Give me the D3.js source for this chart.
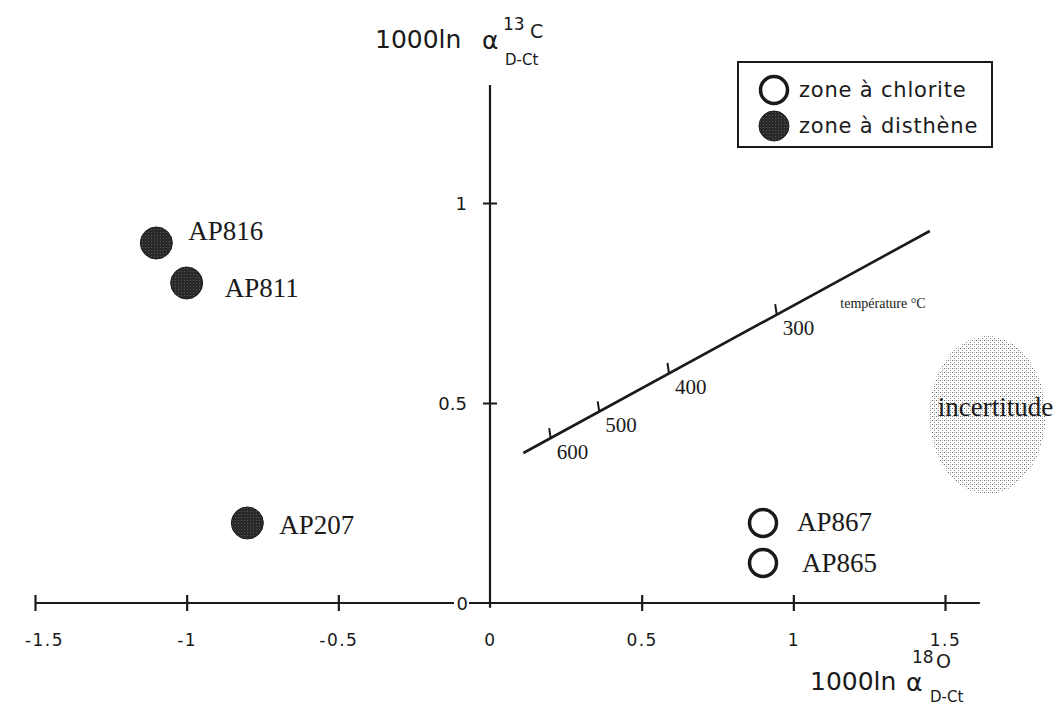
<!DOCTYPE html>
<html>
<head>
<meta charset="utf-8">
<script src="https://cdn.jsdelivr.net/npm/d3@7"></script>
<style>
  html, body { margin: 0; padding: 0; background: #fff; }
  svg { display: block; }
</style>
</head>
<body>
<div id="chart"></div>
<script>
// ---------- data ----------
const sampleNames = ["AP816", "AP811", "AP207", "AP867", "AP865"];
const d18O = [-1.1, -1.0, -0.8, 0.9, 0.9];
const d13C = [0.9, 0.8, 0.2, 0.2, 0.1];
const sampleZone = ["disthène", "disthène", "disthène", "chlorite", "chlorite"];

const legendLabels = ["zone à chlorite", "zone à disthène"];
const legendZones = ["chlorite", "disthène"];

const xTickValues = [-1.5, -1, -0.5, 0, 0.5, 1, 1.5];
const xTickLabels = ["-1.5", "-1", "-0.5", "0", "0.5", "1", "1.5"];
const yTickValues = [0, 0.5, 1];
const yTickLabels = ["0", "0.5", "1"];

// temperature calibration line
const tempLineX = [0.11, 1.45];
const tempLineY = [0.375, 0.93];
const tempLabels = ["600", "500", "400", "300"];
const tempX = [0.2, 0.36, 0.59, 0.945];
const tempY = [0.412, 0.479, 0.575, 0.722];

// uncertainty blob (centre in data units)
const uncertCenter = [1.64, 0.47];

// ---------- layout ----------
const W = 1060, H = 709;
const x = d3.scaleLinear().domain([-1.5, 1.5]).range([35, 945]);
const y = d3.scaleLinear().domain([0, 1]).range([603, 203]);

const labelDx = [32, 38, 32, 34, 39];
const labelDy = [-3, 14, 11, 8, 9];

const sans = "'DejaVu Sans', sans-serif";
const serif = "'Liberation Serif', 'Times New Roman', serif";
const ink = "#1a1a1a";

const svg = d3.select("#chart").append("svg")
  .attr("width", W).attr("height", H)
  .attr("viewBox", `0 0 ${W} ${H}`);
svg.append("rect").attr("width", W).attr("height", H).attr("fill", "#fff");

const defs = svg.append("defs");
const pat = defs.append("pattern").attr("id", "stipple")
  .attr("patternUnits", "userSpaceOnUse").attr("width", 4).attr("height", 4);
pat.append("rect").attr("width", 4).attr("height", 4).attr("fill", "#fff");
pat.append("rect").attr("x", 0).attr("y", 0).attr("width", 1).attr("height", 1).attr("fill", "#666");
pat.append("rect").attr("x", 2).attr("y", 2).attr("width", 1).attr("height", 1).attr("fill", "#888");
pat.append("rect").attr("x", 2).attr("y", 0).attr("width", 1).attr("height", 1).attr("fill", "#bbb");

const dark = defs.append("pattern").attr("id", "darkdots")
  .attr("patternUnits", "userSpaceOnUse").attr("width", 3).attr("height", 3);
dark.append("rect").attr("width", 3).attr("height", 3).attr("fill", "#2a2a2a");
dark.append("rect").attr("x", 1).attr("y", 1).attr("width", 1).attr("height", 1).attr("fill", "#555");

// ---------- uncertainty blob ----------
svg.append("ellipse")
  .attr("cx", x(uncertCenter[0])).attr("cy", y(uncertCenter[1]))
  .attr("rx", 58).attr("ry", 79)
  .attr("fill", "url(#stipple)");
svg.append("text")
  .attr("x", x(uncertCenter[0]) + 8).attr("y", y(uncertCenter[1]) + 1)
  .attr("text-anchor", "middle")
  .attr("font-family", serif).attr("font-size", 27).attr("fill", ink)
  .text("incertitude");

// ---------- axes ----------
const xAxis = d3.axisBottom(x).tickValues(xTickValues).tickSize(0).tickFormat("");
const gx = svg.append("g").attr("transform", `translate(0,${y(0)})`).call(xAxis);
gx.select(".domain").remove();
gx.append("line").attr("x1", x(-1.5)).attr("x2", x(1.615)).attr("y1", 0).attr("y2", 0)
  .attr("stroke", ink).attr("stroke-width", 2.2);
gx.selectAll(".tick line").attr("y1", -8).attr("y2", 8).attr("stroke", ink).attr("stroke-width", 2.2);
gx.selectAll(".tick").filter(d => d === 0).select("line").remove();
gx.selectAll(".tick text").remove();
gx.selectAll(".tick").append("text")
  .attr("x", d => d === -1.5 ? 9 : 0)
  .attr("y", 43).attr("fill", ink)
  .attr("text-anchor", "middle")
  .attr("font-family", sans).attr("font-size", 17).attr("letter-spacing", 1.5)
  .text((d, i) => xTickLabels[i]);

const yAxis = d3.axisLeft(y).tickValues(yTickValues).tickSize(0).tickFormat("");
const gy = svg.append("g").attr("transform", `translate(${x(0)},0)`).call(yAxis);
gy.select(".domain").remove();
gy.append("line").attr("x1", 0).attr("x2", 0).attr("y1", y(-0.012)).attr("y2", y(1.295))
  .attr("stroke", ink).attr("stroke-width", 2.2);
gy.selectAll(".tick line").attr("x1", -7).attr("x2", 7).attr("stroke", ink).attr("stroke-width", 2);
gy.selectAll(".tick").filter(d => d === 0).select("line").remove();
gy.selectAll(".tick").filter(d => d === 0).insert("rect", ":first-child")
  .attr("x", -36).attr("y", -10).attr("width", 15).attr("height", 20).attr("fill", "#fff");
gy.selectAll(".tick").append("text")
  .attr("x", d => d === 0 ? -22 : -23).attr("dy", "0.35em").attr("fill", ink)
  .attr("text-anchor", "end")
  .attr("font-family", sans).attr("font-size", 18)
  .text((d, i) => yTickLabels[i]);

// ---------- axis titles ----------
const yt = svg.append("g").attr("font-family", sans).attr("fill", ink);
yt.append("text").attr("x", 375).attr("y", 48).attr("font-size", 25).text("1000ln");
yt.append("text").attr("x", 482).attr("y", 49).attr("font-size", 25).text("α");
yt.append("text").attr("x", 503).attr("y", 30).attr("font-size", 17).text("13");
yt.append("text").attr("x", 530).attr("y", 38).attr("font-size", 19).text("C");
yt.append("text").attr("x", 505).attr("y", 65).attr("font-size", 15).text("D-Ct");

const xt = svg.append("g").attr("font-family", sans).attr("fill", ink);
xt.append("text").attr("x", 810).attr("y", 690).attr("font-size", 25).text("1000ln");
xt.append("text").attr("x", 906).attr("y", 691).attr("font-size", 25).text("α");
xt.append("text").attr("x", 912).attr("y", 663).attr("font-size", 17).text("18");
xt.append("text").attr("x", 936).attr("y", 668).attr("font-size", 19).text("O");
xt.append("text").attr("x", 930).attr("y", 702).attr("font-size", 15).text("D-Ct");

// ---------- temperature line ----------
const line = d3.line().x(d => x(d[0])).y(d => y(d[1]));
svg.append("path")
  .datum(tempLineX.map((v, i) => [v, tempLineY[i]]))
  .attr("d", line).attr("fill", "none")
  .attr("stroke", ink).attr("stroke-width", 2.6);

const tg = svg.append("g");
tempLabels.forEach((lab, i) => {
  const px = x(tempX[i]), py = y(tempY[i]);
  tg.append("line").attr("x1", px).attr("y1", py).attr("x2", px - 1.5).attr("y2", py - 10)
    .attr("stroke", ink).attr("stroke-width", 2);
  tg.append("text").attr("x", px + 6).attr("y", py + 21)
    .attr("font-family", serif).attr("font-size", 21).attr("fill", ink)
    .text(lab);
});
svg.append("text").attr("x", x(1.155)).attr("y", y(0.7375))
  .attr("font-family", serif).attr("font-size", 14).attr("fill", ink)
  .text("température °C");

// ---------- samples ----------
const samples = sampleNames.map((n, i) => ({ n, x: d18O[i], y: d13C[i], z: sampleZone[i], i }));
const sg = svg.append("g");
sg.selectAll("circle").data(samples).join("circle")
  .attr("cx", d => x(d.x)).attr("cy", d => y(d.y))
  .attr("r", d => d.z === "disthène" ? 16 : 13.5)
  .attr("fill", d => d.z === "disthène" ? "url(#darkdots)" : "#fff")
  .attr("stroke", ink)
  .attr("stroke-width", d => d.z === "disthène" ? 1 : 3.5);
sg.selectAll("text").data(samples).join("text")
  .attr("x", d => x(d.x) + labelDx[d.i]).attr("y", d => y(d.y) + labelDy[d.i])
  .attr("font-family", serif).attr("font-size", 27).attr("fill", ink)
  .text(d => d.n);

// ---------- legend ----------
const lg = svg.append("g");
lg.append("rect").attr("x", 738).attr("y", 62).attr("width", 254).attr("height", 85)
  .attr("fill", "#fff").attr("stroke", ink).attr("stroke-width", 2);
legendLabels.forEach((lab, i) => {
  const cy = 90 + i * 36;
  const filled = legendZones[i] === "disthène";
  lg.append("circle").attr("cx", 774).attr("cy", cy)
    .attr("r", filled ? 15 : 13.5)
    .attr("fill", filled ? "url(#darkdots)" : "#fff")
    .attr("stroke", ink).attr("stroke-width", filled ? 1 : 3.5);
  lg.append("text").attr("x", 799).attr("y", cy + 7)
    .attr("font-family", sans).attr("font-size", 21).attr("letter-spacing", 0.8).attr("fill", ink)
    .text(lab);
});
</script>
</body>
</html>
